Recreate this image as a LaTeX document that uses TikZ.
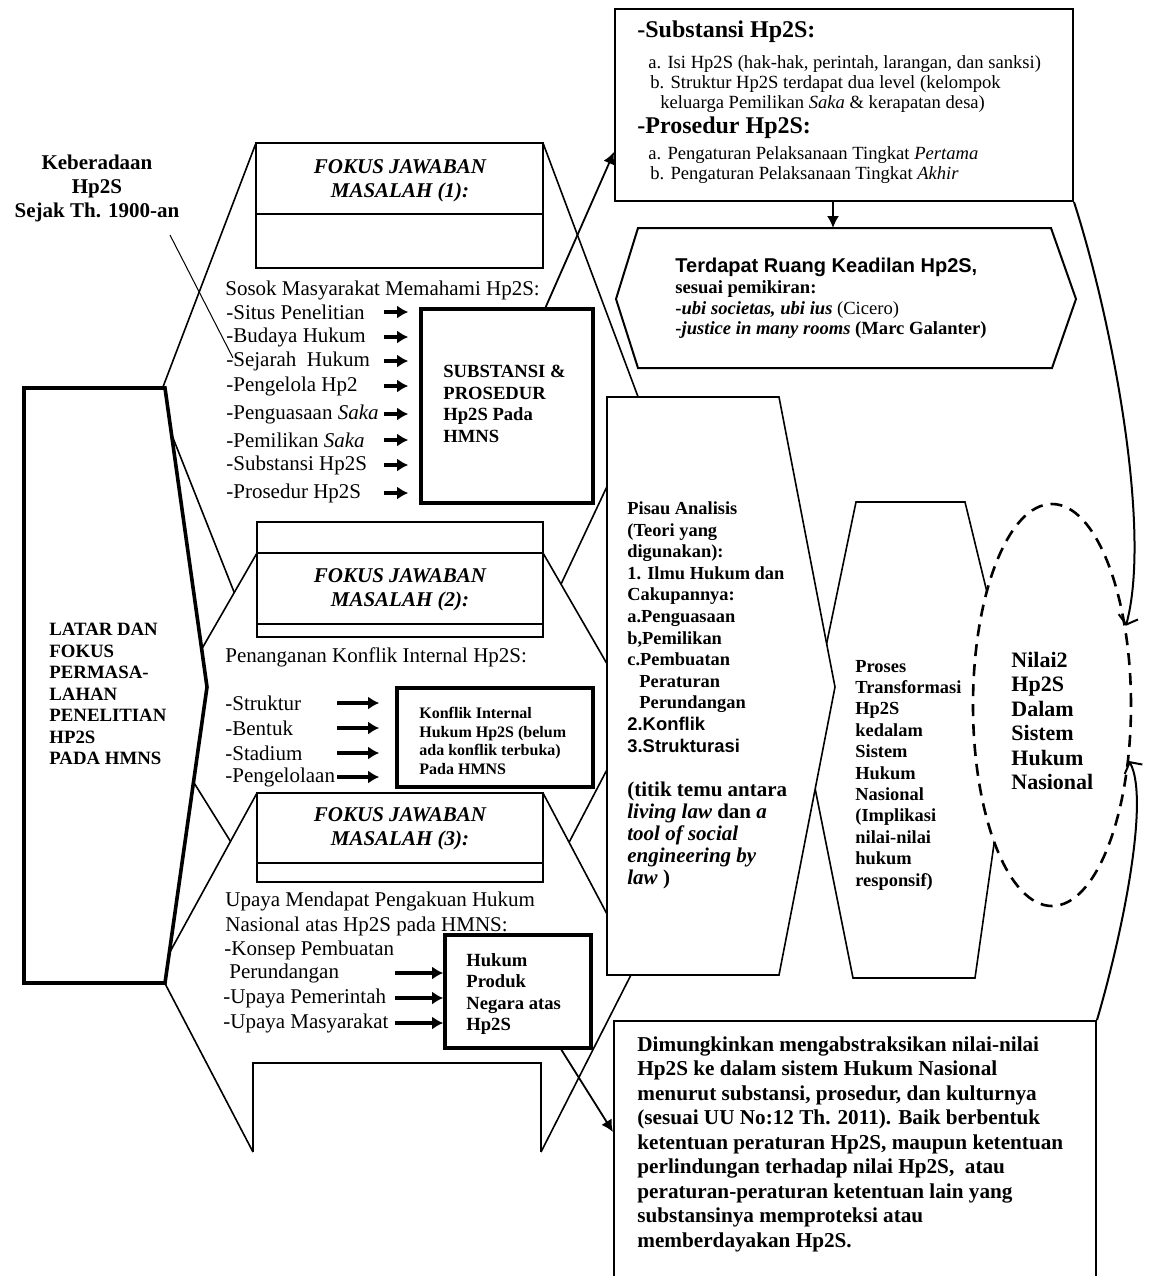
\documentclass[tikz,border=0pt]{standalone}
\usepackage{fontspec}
\setmainfont{Liberation Serif}
\setsansfont{Liberation Sans}
\usetikzlibrary{arrows.meta,fit,calc,shapes.geometric}
\newcommand{\fsz}[2]{\fontsize{#1}{#2}\selectfont}

\begin{document}
\begin{tikzpicture}[
  x=0.5pt, y=-0.5pt,
  font=\fsz{10.5}{12.5},
  shp/.style={draw, line width=0.8pt, fill=white},
  thk/.style={draw, line width=1.8pt, fill=white, inner sep=0pt},
  box/.style={draw, line width=0.9pt, fill=white, inner sep=0pt},
  txt/.style={inner sep=0pt, anchor=west, align=left},
  hdr/.style={inner sep=0pt, align=center, font=\fsz{10.5}{12}\bfseries\itshape},
  arr/.style={-{Latex[length=5.5pt,width=6.5pt]}, line width=1.6pt},
  tip/.style={-{Latex[length=6pt,width=6pt]}, line width=0.9pt},
  barb/.style={-{Straight Barb[length=4pt,width=10pt]}, line width=1pt},
  ell/.style={ellipse, draw, dash pattern=on 6pt off 4pt, line width=1.3pt, fill=white, inner sep=0pt}
]
\useasboundingbox (0,0) rectangle (1148,1276);

% fokus (1)
\path[shp] (256,143) -- (543,143) -- (643,410) -- (530,650) -- (257,650) -- (158,400) -- cycle;
\node[box, fit={(256,143) (543,268)}] (f1) {};
\draw[box] (256,214) -- (543,214);
\node[hdr] (h1) at (400,181) {FOKUS JAWABAN\\MASALAH (1):};
\node[txt] (sosok) at (225,290) {Sosok Masyarakat Memahami Hp2S:};
\foreach \y/\t [count=\i] in {312/-Situs Penelitian, 337/-Budaya Hukum, 361/-Sejarah~ Hukum,
    386/-Pengelola Hp2, 414/-Penguasaan \textit{Saka}, 440/-Pemilikan \textit{Saka},
    465/-Substansi Hp2S, 493/-Prosedur Hp2S}
  \node[txt] (s\i) at (226,\y) {\t};
\node[thk, fit={(421,309) (593,503)}] (sp) {};
\node[txt, font=\fsz{9.3}{10.8}\bfseries] (spt) at (443,404) {SUBSTANSI \&\\PROSEDUR\\Hp2S Pada\\HMNS};
\foreach \i in {1,...,8}
  \draw[arr] ($(sp.west |- s\i)+(-35,0)$) -- ($(sp.west |- s\i)+(-11,0)$);

% fokus (2)
\path[shp] (257,553) -- (543,553) -- (636,714) -- (539,900) -- (267,900) -- (158,725) -- cycle;
\node[box, fit={(257,522) (543,637)}] (f2) {};
\draw[box] (257,553) -- (543,553) (257,624) -- (543,624);
\node[hdr] (h2) at (400,590) {FOKUS JAWABAN\\MASALAH (2):};
\node[txt] (pen) at (225,657) {Penanganan Konflik Internal Hp2S:};
\foreach \y/\t [count=\i] in {703/-Struktur, 728/-Bentuk, 753/-Stadium, 777/-Pengelolaan}
  \node[txt] (k\i) at (225,\y) {\t};
\node[thk, fit={(397,688) (593,787)}] (kon) {};
\node[txt, font=\fsz{8}{9.2}\bfseries] (kont) at (419,741) {Konflik Internal\\Hukum Hp2S (belum\\ada konflik terbuka)\\Pada HMNS};
\foreach \i in {1,...,4}
  \draw[arr] ($(kon.west |- k\i)+(-58,0)$) -- ($(kon.west |- k\i)+(-16,0)$);

% fokus (3)
\path[shp] (253,1152) -- (159,972) -- (257,793) -- (543,793) -- (635,967) -- (541,1152);
\path[shp] (253,1152) -- (253,1063) -- (541,1063) -- (541,1152);
\node[box, fit={(257,793) (543,882)}] (f3) {};
\draw[box] (257,863) -- (543,863);
\node[hdr] (h3) at (400,829) {FOKUS JAWABAN\\MASALAH (3):};
\node[txt] (upa) at (225,914) {Upaya Mendapat Pengakuan Hukum\\Nasional atas Hp2S pada HMNS:};
\node[txt] (p1) at (224,950) {-Konsep Pembuatan};
\node[txt] (p2) at (229,973) {Perundangan};
\node[txt] (p3) at (223,998) {-Upaya Pemerintah};
\node[txt] (p4) at (223,1023) {-Upaya Masyarakat};
\node[thk, fit={(445,935) (591,1048)}] (hk) {};
\node[txt, font=\fsz{9.3}{10.7}\bfseries] (hkt) at (466,994) {Hukum\\Produk\\Negara atas\\Hp2S};
\foreach \i in {2,3,4}
  \draw[arr] ($(hk.west |- p\i)+(-48,0)$) -- (hk.west |- p\i);

% latar
\path[thk] (24,388) -- (165,388) -- (207,687) -- (165,983) -- (24,983) -- cycle;
\node[txt, font=\fsz{9.4}{10.75}\bfseries] (lat) at (49,694) {LATAR DAN\\FOKUS\\PERMASA-\\LAHAN\\PENELITIAN\\HP2S\\PADA HMNS};

% keberadaan
\node[align=center, font=\fsz{10.5}{12}\bfseries, inner sep=0pt] (kb) at (97,188) {Keberadaan\\Hp2S\\Sejak Th. 1900-an};
\coordinate (kb-p) at (170,235);
\draw[line width=0.5pt] (kb-p) -- ($(s3.west)+(7,-3)$);

% proses, pisau, nilai
\path[shp] (856,502) -- (965,502) -- (1014,703) -- (975,978) -- (853,978) -- (806,743) -- cycle;
\node[txt, font=\fsz{9.2}{10.7}\bfseries] (pro) at (855,775) {Proses\\Transformasi\\Hp2S\\kedalam\\Sistem\\Hukum\\Nasional\\(Implikasi\\nilai-nilai\\hukum\\responsif)};
\path[shp] (607,397) -- (779,397) -- (835,687) -- (779,975) -- (607,975) -- cycle;
\node[txt, font=\fsz{9.2}{10.8}\bfseries] (pis1) at (627,627) {Pisau Analisis\\(Teori yang\\digunakan):\\1. Ilmu Hukum dan\\Cakupannya:\\a.Penguasaan\\b,Pemilikan\\c.Pembuatan\\\hspace*{6pt}Peraturan\\\hspace*{6pt}Perundangan\\{\sffamily 2.Konflik}\\{\sffamily 3.Strukturasi}};
\node[txt, font=\fsz{10.5}{11}\bfseries] (pis2) at (627,835) {(titik temu antara\\\textit{living law} dan \textit{a}\\\textit{tool of social}\\\textit{engineering by}\\\textit{law} )};
\node[ell, minimum width=79pt, minimum height=201pt] (nil) at (1052,705) {};
\node[txt, font=\fsz{11}{12.2}\bfseries] (nilt) at (1011,721) {Nilai2\\Hp2S\\Dalam\\Sistem\\Hukum\\Nasional};

% substansi dan prosedur
\node[box, line width=1pt, fit={(615,9) (1073,201)}] (sub) {};
\node[txt, font=\fsz{12}{14}\bfseries] (sb1) at (637,32) {-Substansi Hp2S:};
\node[txt, font=\fsz{9.3}{10}] (sb2) at (648,84) {a. Isi Hp2S (hak-hak, perintah, larangan, dan sanksi)\\\hspace*{1pt}b. Struktur Hp2S terdapat dua level (kelompok\\\hspace*{6pt}keluarga Pemilikan \textit{Saka} \& kerapatan desa)};
\node[txt, font=\fsz{12}{14}\bfseries] (sb3) at (637,128) {-Prosedur Hp2S:};
\node[txt, font=\fsz{9.3}{10}] (sb4) at (648,165) {a. Pengaturan Pelaksanaan Tingkat \textit{Pertama}\\\hspace*{1pt}b. Pengaturan Pelaksanaan Tingkat \textit{Akhir}};
\draw[tip] ($(sp.north west)!0.72!(sp.north east)$) -- ($(sub.north west)+(0,144)$);

% ruang keadilan
\coordinate (ter-n) at (833,228);
\draw[tip] (sub.south -| ter-n) -- (ter-n);
\path[shp, line width=1pt] (638,228) -- (1051,228) -- (1076,299) -- (1052,368) -- (638,368) -- (616,299) -- cycle;
\node[txt, font=\fsz{10}{12}\sffamily\bfseries] (ter1) at (675,267) {Terdapat Ruang Keadilan Hp2S,};
\node[txt, font=\fsz{9.3}{10.25}\bfseries] (ter2) at (675,310) {sesuai pemikiran:\\-\textit{ubi societas, ubi ius} {\mdseries (Cicero)}\\-\textit{justice in many rooms} (Marc Galanter)};

% dimungkinkan
\node[box, line width=1pt, fit={(614,1021) (1096,1300)}] (dim) {};
\node[txt, font=\fsz{10.6}{12.25}\bfseries] (dimt) at (637,1144) {Dimungkinkan mengabstraksikan nilai-nilai\\Hp2S ke dalam sistem Hukum Nasional\\menurut substansi, prosedur, dan kulturnya\\(sesuai UU No:12 Th. 2011). Baik berbentuk\\ketentuan peraturan Hp2S, maupun ketentuan\\perlindungan terhadap nilai Hp2S,~ atau\\peraturan-peraturan ketentuan lain yang\\substansinya memproteksi atau\\memberdayakan Hp2S.};
\draw[tip] ($(hk.south west)!0.79!(hk.south east)$) -- ($(dim.north west)+(0,112)$);

% lengkung ke nilai
\draw[barb] (sub.south east) .. controls (1112,320) and (1152,530) .. (nil.47);
\draw[barb] (dim.north east) .. controls (1122,935) and (1150,800) .. (nil.-36);
\end{tikzpicture}
\end{document}
